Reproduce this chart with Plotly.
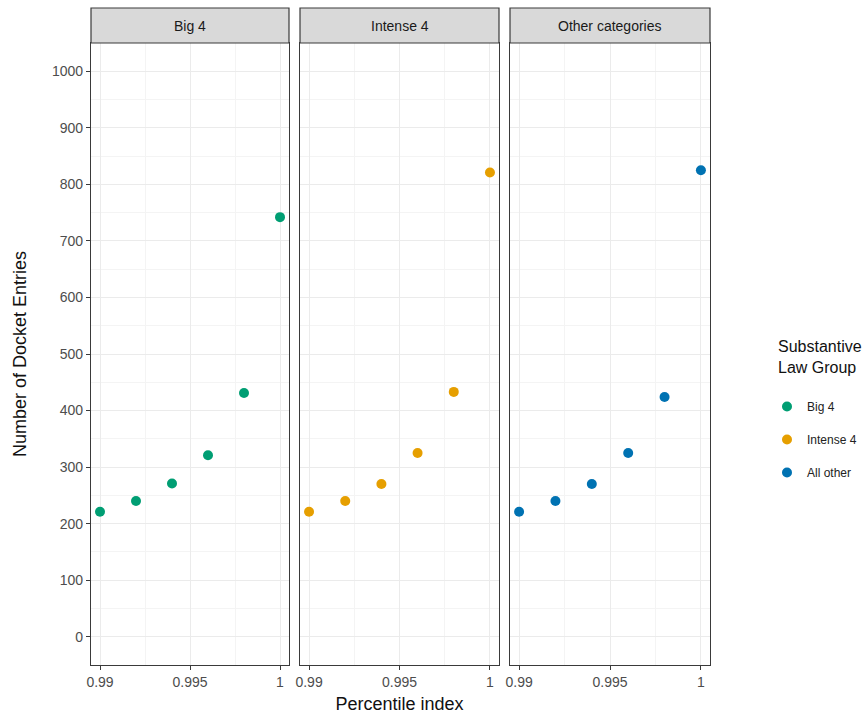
import plotly.graph_objects as go

percentile = [0.99, 0.992, 0.994, 0.996, 0.998, 1.0]
big4 = [221, 240, 271, 321, 431, 742]
intense4 = [221, 240, 270, 325, 433, 821]
all_other = [221, 240, 270, 325, 424, 825]

panel_titles = ["Big 4", "Intense 4", "Other categories"]
legend_names = ["Big 4", "Intense 4", "All other"]
legend_title = "Substantive<br>Law Group"
colors = ["#009E73", "#E69F00", "#0072B2"]
series = [big4, intense4, all_other]

x_tickvals = [0.99, 0.995, 1.0]
x_ticktext = ["0.99", "0.995", "1"]
y_tickvals = [0, 100, 200, 300, 400, 500, 600, 700, 800, 900, 1000]

W, H = 862, 717
ml, mr, mt, mb = 91, 152, 8, 52
pw = W - ml - mr
ph = H - mt - mb
panel_px = [(0, 198), (209, 408), (419, 619)]
domains = [[a / pw, b / pw] for a, b in panel_px]
ytop = (665 - 43) / ph

def px_x(p):
    return (p - ml) / pw

def px_y(p):
    return (H - mb - p) / ph

font = "Liberation Sans, Arial, sans-serif"
fig = go.Figure()
for i, (vals, name, col) in enumerate(zip(series, legend_names, colors)):
    fig.add_trace(go.Scatter(
        x=percentile, y=vals, mode="markers", name=name, legendgroup=name,
        marker=dict(color=col, size=10),
        xaxis="x" if i == 0 else f"x{i+1}",
        yaxis="y" if i == 0 else f"y{i+1}",
    ))

axis_common = dict(
    showline=True, mirror=True, linecolor="#3a3a3a", linewidth=1.2,
    ticks="outside", ticklen=4, tickcolor="#3a3a3a", tickwidth=1,
    showgrid=True, gridcolor="#ebebeb", gridwidth=1, zeroline=False,
    automargin=False,
    tickfont=dict(family=font, size=14, color="#4d4d4d"),
)
layout = dict(
    width=W, height=H,
    margin=dict(l=ml, r=mr, t=mt, b=mb, autoexpand=False),
    plot_bgcolor="white", paper_bgcolor="white",
    font=dict(family=font),
    showlegend=True,
    legend=dict(
        font=dict(size=12, color="#222", family=font),
        x=px_x(767), xanchor="left", y=px_y(392), yanchor="top",
        tracegroupgap=14, bgcolor="rgba(0,0,0,0)",
    ),
)
for i in range(3):
    xs = "xaxis" if i == 0 else f"xaxis{i+1}"
    ys = "yaxis" if i == 0 else f"yaxis{i+1}"
    xa = dict(axis_common)
    xa.update(domain=domains[i], range=[0.9895, 1.0005], tickvals=x_tickvals, ticktext=x_ticktext,
              minor=dict(showgrid=True, gridcolor="#f4f4f4", tickvals=[0.9925, 0.9975], ticks=""),
              anchor="y" if i == 0 else f"y{i+1}")
    ya = dict(axis_common)
    ya.update(domain=[0, ytop], range=[-50, 1050], tickvals=y_tickvals,
              minor=dict(showgrid=True, gridcolor="#f4f4f4", dtick=50, ticks=""),
              anchor="x" if i == 0 else f"x{i+1}")
    if i > 0:
        ya.update(showticklabels=False, ticks="", matches="y")
    if i == 0:
        ya.update(title=dict(text="Number of Docket Entries", font=dict(size=18, color="#111", family=font), standoff=20))
    if i == 1:
        xa.update(title=dict(text="Percentile index", font=dict(size=18, color="#111", family=font), standoff=8))
    layout[xs] = xa
    layout[ys] = ya

shapes = []
annotations = []
for i, t in enumerate(panel_titles):
    shapes.append(dict(type="rect", xref="paper", yref="paper",
                       x0=domains[i][0], x1=domains[i][1], y0=ytop, y1=1.0,
                       fillcolor="#d9d9d9", line=dict(color="#3a3a3a", width=1.2)))
    annotations.append(dict(text=t, xref="paper", yref="paper",
                            x=(domains[i][0] + domains[i][1]) / 2, y=(ytop + 1) / 2,
                            showarrow=False, font=dict(size=14, color="#1a1a1a", family=font),
                            xanchor="center", yanchor="middle"))
annotations.append(dict(text=legend_title, xref="paper", yref="paper",
                        x=px_x(776), y=px_y(336), xanchor="left", yanchor="top", align="left",
                        showarrow=False, font=dict(size=16, color="#111", family=font)))
layout["shapes"] = shapes
layout["annotations"] = annotations
fig.update_layout(**layout)
fig.write_html("out.html")
